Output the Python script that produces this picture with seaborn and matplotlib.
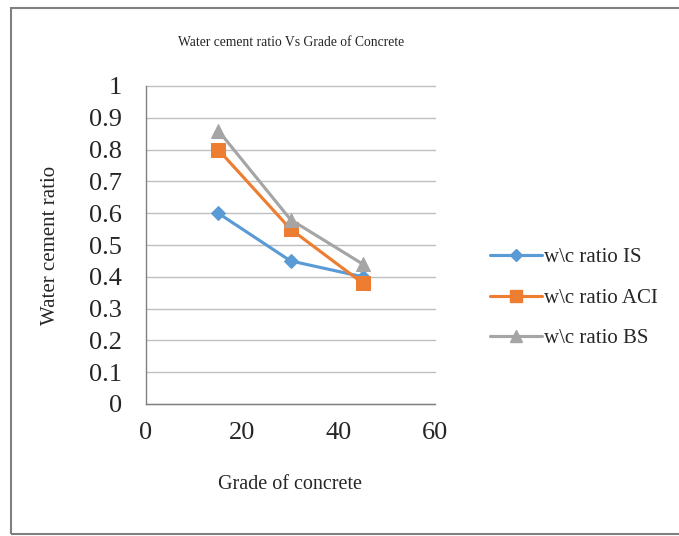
import matplotlib
matplotlib.use("Agg")
import matplotlib.pyplot as plt
import seaborn as sns
import pandas as pd
from matplotlib.patches import Rectangle
from matplotlib.lines import Line2D

grades = [15, 30, 45]
wc_is = [0.60, 0.45, 0.40]
wc_aci = [0.80, 0.55, 0.38]
wc_bs = [0.86, 0.58, 0.44]
series_names = ["w\\c ratio IS", "w\\c ratio ACI", "w\\c ratio BS"]
yticks = [0, 0.1, 0.2, 0.3, 0.4, 0.5, 0.6, 0.7, 0.8, 0.9, 1]
ytick_labels = ["0", "0.1", "0.2", "0.3", "0.4", "0.5", "0.6", "0.7", "0.8", "0.9", "1"]
xticks = [0, 20, 40, 60]

sns.set_style("white")
plt.rcParams['font.family'] = ['Liberation Serif', 'DejaVu Serif']

rows = []
for name, vals in zip(series_names, [wc_is, wc_aci, wc_bs]):
    for g, v in zip(grades, vals):
        rows.append({"Grade": g, "wc": v, "Series": name})
df = pd.DataFrame(rows)

colors = ["#5B9BD5", "#ED7D31", "#A5A5A5"]
markers = ["D", "s", "^"]
msizes = [7.5, 9.5, 9.5]

fig = plt.figure(figsize=(6.79, 5.36), dpi=100)
ax = fig.add_axes([146/679, 1-404/536, 289/679, 318/536])

for name, c, m, ms in zip(series_names, colors, markers, msizes):
    sub = df[df["Series"] == name]
    sns.lineplot(data=sub, x="Grade", y="wc", ax=ax, color=c, marker=m,
                 markersize=ms, markeredgecolor=c, linewidth=2.25,
                 legend=False, zorder=3)

ax.set_xlim(0, 60)
ax.set_ylim(0, 1)
ax.set_xticks(xticks)
ax.set_xticklabels([str(x) for x in xticks], fontsize=19)
ax.set_yticks(yticks)
ax.set_yticklabels(ytick_labels, fontsize=19)
ax.yaxis.grid(True, color="#BFBFBF", linewidth=1)
for gl in ax.get_ygridlines():
    gl.set_clip_on(False)
ax.xaxis.grid(False)
ax.tick_params(axis="both", length=0)
ax.tick_params(axis="y", pad=17.5)
ax.tick_params(axis="x", pad=13)
for s in ["top", "right"]:
    ax.spines[s].set_visible(False)
ax.spines["bottom"].set_color("#808080")
ax.spines["bottom"].set_linewidth(1)
ax.spines["left"].set_color("#808080")
ax.spines["left"].set_linewidth(1)
ax.set_xlabel("Grade of concrete", fontsize=14.5, labelpad=22)
ax.set_ylabel("Water cement ratio", fontsize=15, labelpad=21)

fig.text(291/679, 1-43/536, "Water cement ratio Vs Grade of Concrete",
         fontsize=9.8, ha="center", va="center")

handles = [Line2D([0], [0], color=c, marker=m, markersize=ms*0.85,
                  markeredgecolor=c, linewidth=2.25)
           for c, m, ms in zip(colors, markers, msizes)]
fig.legend(handles, series_names, loc="center left",
           bbox_to_anchor=(471/679, 1-298/536), frameon=False,
           fontsize=15, handlelength=2.5, handletextpad=0.1,
           labelspacing=1.0)

fig.patches.append(Rectangle((11/679, 1-534/536), 700/679, 526/536,
                             transform=fig.transFigure, fill=False,
                             edgecolor="#808080", linewidth=1.5))

fig.savefig("out.png", dpi=100)
